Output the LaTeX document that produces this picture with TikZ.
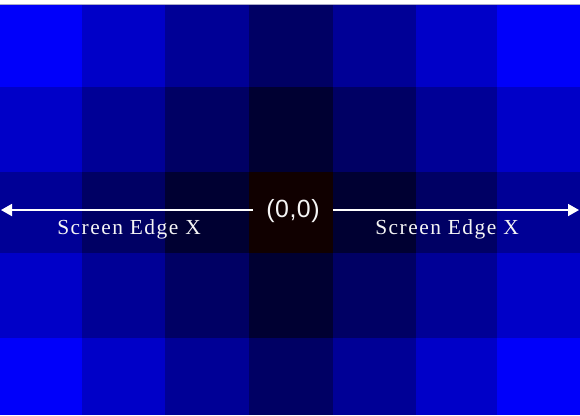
\documentclass[tikz,border=0pt]{standalone}
\usepackage{fontspec}
\setmainfont{Liberation Serif}
\newfontfamily\labelsans{Liberation Sans}
\usetikzlibrary{arrows.meta}
\begin{document}
\begin{tikzpicture}[x=1bp,y=-1bp,
  axis/.style={draw=white,line width=1.8bp,-{Triangle[length=11bp,width=12bp]}},
  edgelabel/.style={text=white!92!gray,font=\fontsize{21.5}{23}\selectfont\addfontfeature{LetterSpace=7},inner sep=0pt},
  originlabel/.style={text=white!92!gray,font=\labelsans\fontsize{25}{27}\selectfont\addfontfeature{LetterSpace=2},inner xsep=13bp,inner ysep=2bp}]
\useasboundingbox (0,0) rectangle (580,415);
\fill[white] (0,0) rectangle (580,5);
\def\xs{{0,82,165,249,333,416,497,580}}
\def\ys{{5,87,172,253,338,415}}
\foreach \c in {0,...,6}{
  \foreach \r in {0,...,4}{
    \pgfmathtruncatemacro{\d}{abs(\c-3)+abs(\r-2)}
    \pgfmathtruncatemacro{\bl}{50*\d}
    \pgfmathsetmacro{\xa}{\xs[\c]}
    \pgfmathsetmacro{\xb}{\xs[\c+1]}
    \pgfmathsetmacro{\ya}{\ys[\r]}
    \pgfmathsetmacro{\yb}{\ys[\r+1]}
    \ifnum\d=0
      \definecolor{cellcol}{RGB}{16,0,0}
    \else
      \definecolor{cellcol}{RGB}{0,0,\bl}
    \fi
    \fill[cellcol] (\xa,\ya) rectangle (\xb,\yb);
  }
}
\draw[color={rgb,255:red,170;green,170;blue,200},line width=1bp] (0,4.5) -- (580,4.5);
\node[originlabel] (o) at (293,211) {(0,0)};
\coordinate (L) at (1,210);
\coordinate (R) at (579,210);
\draw[axis] (o.west |- L) -- (L);
\draw[axis] (o.east |- R) -- (R);
\node[edgelabel] (sl) at (129,229.5) {Screen Edge X};
\node[edgelabel] (sr) at (447,229.5) {Screen Edge X};
\end{tikzpicture}
\end{document}
